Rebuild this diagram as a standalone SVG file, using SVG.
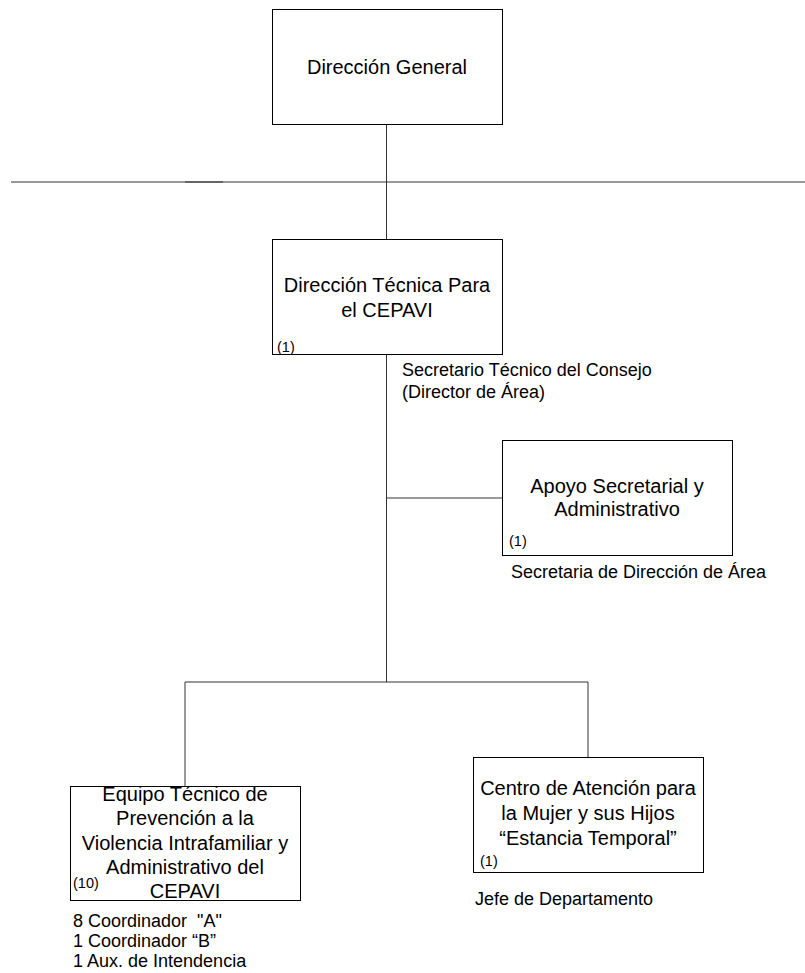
<svg xmlns="http://www.w3.org/2000/svg" width="805" height="973" viewBox="0 0 805 973">
<style>
text{font-family:"Liberation Sans",Arial,sans-serif;fill:#000}
.box{fill:#fff;stroke:#000;stroke-width:1}
.t{font-size:20px;text-anchor:middle}
.s{font-size:14.5px}
.l{font-size:18px;white-space:pre}
.c{stroke:#333;stroke-width:1;fill:none}
</style>
<rect width="805" height="973" fill="#fff"/>
<g id="connectors">
<line class="c" x1="11" y1="182" x2="805" y2="182" stroke="#555"/>
<line class="c" x1="185" y1="182" x2="223" y2="182" stroke="#000" stroke-width="1.5"/>
<line class="c" x1="386.5" y1="124" x2="386.5" y2="239"/>
<line class="c" x1="386.5" y1="354" x2="386.5" y2="682"/>
<line class="c" x1="386.5" y1="498" x2="502" y2="498"/>
<line class="c" x1="185" y1="682" x2="588" y2="682"/>
<line class="c" x1="185" y1="682" x2="185" y2="786"/>
<line class="c" x1="588" y1="682" x2="588" y2="757"/>
</g>
<g id="direccion-general">
<rect class="box" x="272.5" y="9.5" width="230" height="115"/>
<text class="t" x="387" y="74">Dirección General</text>
</g>
<g id="direccion-tecnica">
<rect class="box" x="272.5" y="239.5" width="230" height="115"/>
<text class="t" x="387" y="292">Dirección Técnica Para</text>
<text class="t" x="387" y="317">el CEPAVI</text>
<text class="s" x="277" y="352">(1)</text>
<text class="l" x="402" y="376">Secretario Técnico del Consejo</text>
<text class="l" x="402" y="398">(Director de Área)</text>
</g>
<g id="apoyo">
<rect class="box" x="502.5" y="440.5" width="230" height="115"/>
<text class="t" x="617" y="493">Apoyo Secretarial y</text>
<text class="t" x="617" y="516">Administrativo</text>
<text class="s" x="509" y="546">(1)</text>
<text class="l" x="511" y="578">Secretaria de Dirección de Área</text>
</g>
<g id="equipo">
<rect class="box" x="70.5" y="786.5" width="230" height="114"/>
<text class="t" x="185" y="801">Equipo Técnico de</text>
<text class="t" x="185" y="825">Prevención a la</text>
<text class="t" x="185" y="850">Violencia Intrafamiliar y</text>
<text class="t" x="185" y="874">Administrativo del</text>
<text class="t" x="185" y="898">CEPAVI</text>
<text class="s" x="73" y="888">(10)</text>
<text class="l" x="73" y="927">8 Coordinador  "A"</text>
<text class="l" x="73" y="947">1 Coordinador “B”</text>
<text class="l" x="73" y="967">1 Aux. de Intendencia</text>
</g>
<g id="centro">
<rect class="box" x="473.5" y="757.5" width="230" height="115"/>
<text class="t" x="588" y="795">Centro de Atención para</text>
<text class="t" x="588" y="820">la Mujer y sus Hijos</text>
<text class="t" x="588" y="845">“Estancia Temporal”</text>
<text class="s" x="480" y="866">(1)</text>
<text class="l" x="475" y="905">Jefe de Departamento</text>
</g>
</svg>
